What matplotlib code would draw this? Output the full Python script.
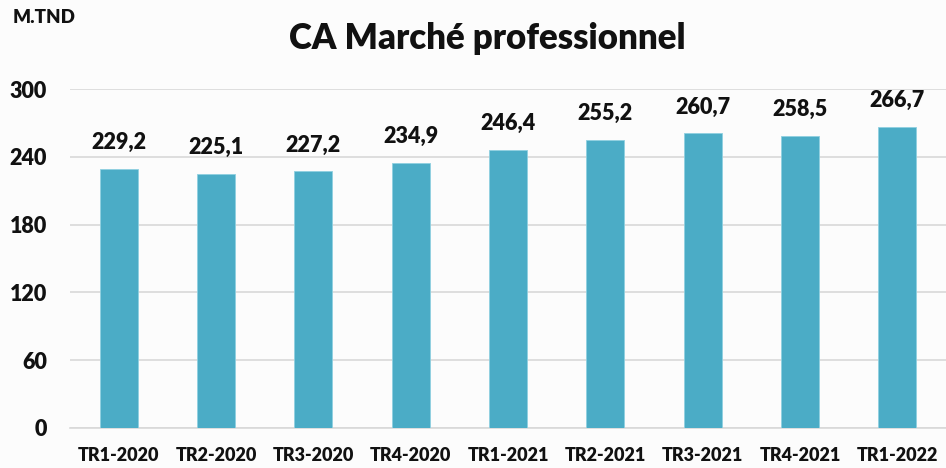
import numpy as np
import matplotlib.pyplot as plt

# data
trimestres = ['TR1-2020', 'TR2-2020', 'TR3-2020', 'TR4-2020', 'TR1-2021',
              'TR2-2021', 'TR3-2021', 'TR4-2021', 'TR1-2022']
ca = [229.2, 225.1, 227.2, 234.9, 246.4, 255.2, 260.7, 258.5, 266.7]
yticks = [0, 60, 120, 180, 240, 300]

plt.rcParams['font.family'] = ['Lato', 'DejaVu Sans']
W = 'heavy'

fig = plt.figure(figsize=(9.46, 4.68), dpi=100)
fig.patch.set_facecolor('#fcfcfc')
ax = fig.add_axes([0.074, 0.0855, 0.926, 0.7243])
ax.set_facecolor('none')

x = np.arange(len(trimestres))
ax.bar(x, ca, width=0.39, color='#4bacc6', edgecolor='#8fd0e0',
       linewidth=0.6, zorder=3)

# value labels above bars, french decimal comma
for xi, v in zip(x, ca):
    ax.text(xi, v + 14, f'{v:.1f}'.replace('.', ','), ha='center', va='bottom',
            fontsize=15.5, fontweight=W, color='#111111')

ax.set_xlim(-0.5, len(trimestres) - 0.5)
ax.set_ylim(0, 300)
ax.set_yticks(yticks)
ax.set_yticklabels([str(t) for t in yticks], fontsize=15.5, fontweight=W)
ax.set_xticks(x)
ax.set_xticklabels(trimestres, fontsize=13, fontweight=W)
ax.tick_params(axis='both', length=0, colors='#111111')
ax.tick_params(axis='y', pad=16.5)
ax.tick_params(axis='x', pad=13.5)

ax.grid(axis='y', color='#d9d9d9', linewidth=1.2, zorder=0)
for s in ['top', 'right', 'left']:
    ax.spines[s].set_visible(False)
ax.spines['bottom'].set_color('#d9d9d9')
ax.spines['bottom'].set_linewidth(1.2)

fig.text(0.515, 0.918, 'CA Marché professionnel', ha='center', va='center',
         fontsize=25, fontweight=W, color='#111111')
fig.text(0.013, 0.963, 'M.TND', ha='left', va='center',
         fontsize=13.5, fontweight=W, color='#111111')

fig.savefig('out.png', dpi=100, facecolor=fig.get_facecolor())
